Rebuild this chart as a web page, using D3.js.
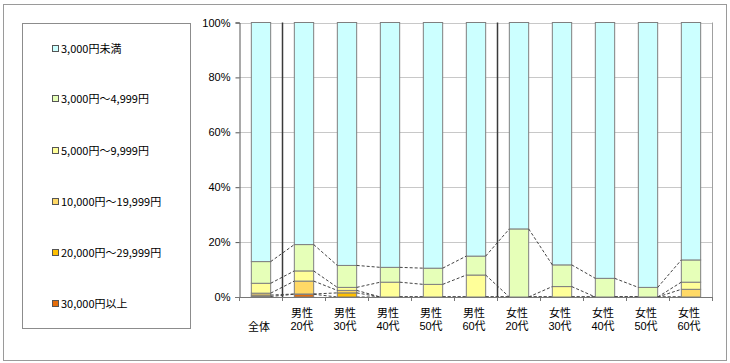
<!DOCTYPE html>
<html lang="ja">
<head>
<meta charset="utf-8"/>
<script src="https://d3js.org/d3.v7.min.js"></script>
<style>
  body { margin: 0; background: #fff; }
  text { font-family: "Noto Sans CJK JP", sans-serif; fill: #000; }
  .xlab { font-family: "Liberation Sans", "Noto Sans CJK JP", sans-serif; }
  .grid { stroke: #c8c8c8; stroke-width: 1; }
  .seriesline { stroke: #444; stroke-width: 1; stroke-dasharray: 3,2; fill: none; }
</style>
</head>
<body>
<svg id="chart" width="730" height="363"></svg>
<script>
// categories (two label lines each)
const cats = ["全体", "男性20代", "男性30代", "男性40代", "男性50代", "男性60代",
              "女性20代", "女性30代", "女性40代", "女性50代", "女性60代"];
const catLine1 = ["", "男性", "男性", "男性", "男性", "男性", "女性", "女性", "女性", "女性", "女性"];
const catLine2 = ["全体", "20代", "30代", "40代", "50代", "60代", "20代", "30代", "40代", "50代", "60代"];

// series, bottom to top (percent)
const seriesNames = ["30,000円以上", "20,000円～29,999円", "10,000円～19,999円",
                     "5,000円～9,999円", "3,000円～4,999円", "3,000円未満"];
const over30000   = [0.2, 1.0, 0.0, 0, 0, 0, 0, 0, 0, 0, 0];
const from20000   = [0.5, 0.1, 1.5, 0, 0, 0, 0, 0, 0, 0, 0];
const from10000   = [0.7, 4.7, 0.9, 0, 0, 0, 0, 0, 0, 0, 2.8];
const from5000    = [3.6, 3.7, 1.1, 5.4, 4.6, 8.0, 0, 3.8, 0, 0, 2.6];
const from3000    = [7.9, 9.6, 8.0, 5.4, 5.9, 6.9, 24.8, 7.9, 6.8, 3.5, 8.1];
const under3000   = [87.1, 80.9, 88.5, 89.2, 89.5, 85.1, 75.2, 88.3, 93.2, 96.5, 86.5];
const seriesValues = [over30000, from20000, from10000, from5000, from3000, under3000];
const seriesColors = ["#e46c0a", "#ffc000", "#ffd966", "#ffff99", "#e6ffb8", "#ccffff"];

const yTicks = [0, 20, 40, 60, 80, 100];

const svg = d3.select("#chart");

// outer frame
svg.append("rect").attr("x", 3.5).attr("y", 4.5).attr("width", 723).attr("height", 356)
  .attr("fill", "none").attr("stroke", "#9a9a9a");

const plotLeft = 239.5, plotRight = 712.5, plotTop = 22.5, plotBottom = 297;

const x = d3.scaleBand().domain(cats).range([plotLeft, plotRight]).padding(0);
const y = d3.scaleLinear().domain([0, 100]).range([plotBottom, plotTop]);
const barW = x.bandwidth() * 0.45;

// table for stack
const table = cats.map((c, i) => {
  const row = { cat: c };
  seriesNames.forEach((s, k) => row[s] = seriesValues[k][i]);
  return row;
});
const stacked = d3.stack().keys(seriesNames)(table);

// gridlines
svg.append("g").selectAll("line").data(yTicks.filter(t => t > 0)).join("line")
  .attr("class", "grid")
  .attr("x1", plotLeft).attr("x2", plotRight)
  .attr("y1", d => Math.round(y(d)) + 0.5).attr("y2", d => Math.round(y(d)) + 0.5);

// plot right border
svg.append("line").attr("x1", plotRight).attr("x2", plotRight).attr("y1", plotTop).attr("y2", plotBottom)
  .attr("stroke", "#a0a0a0");

// separators between groups
[1, 6].forEach(i => {
  const sx = x(cats[i]);
  svg.append("line").attr("x1", sx).attr("x2", sx).attr("y1", plotTop).attr("y2", plotBottom)
    .attr("stroke", "#3a3a3a").attr("stroke-width", 1.5);
});

// bars
const barOff = (x.bandwidth() - barW) / 2;
svg.append("g").selectAll("g").data(stacked).join("g")
  .attr("fill", (d, k) => seriesColors[k])
  .selectAll("rect").data(d => d).join("rect")
  .attr("x", d => x(d.data.cat) + barOff)
  .attr("width", barW)
  .attr("y", d => y(d[1]))
  .attr("height", d => y(d[0]) - y(d[1]))
  .attr("stroke", "#7f7f7f")
  .attr("stroke-width", d => (d[1] - d[0]) > 0 ? 1 : 0);

// series lines between adjacent bars
stacked.slice(0, stacked.length - 1).forEach(s => {
  for (let i = 0; i < cats.length - 1; i++) {
    svg.append("line").attr("class", "seriesline")
      .attr("x1", x(cats[i]) + barOff + barW)
      .attr("y1", y(s[i][1]))
      .attr("x2", x(cats[i + 1]) + barOff)
      .attr("y2", y(s[i + 1][1]));
  }
});

// y axis
const yAxis = svg.append("g").attr("transform", `translate(${plotLeft},0)`)
  .call(d3.axisLeft(y).tickValues(yTicks).tickSize(4).tickFormat(d => d + "%"));
yAxis.select(".domain").attr("stroke", "#555");
yAxis.selectAll(".tick line").attr("stroke", "#555");
yAxis.selectAll("text").attr("font-size", 11).attr("dx", -2)
  .style("font-family", "'Liberation Sans', sans-serif");

// x axis line and ticks at category boundaries
svg.append("line").attr("x1", plotLeft - 4).attr("x2", plotRight).attr("y1", plotBottom + 0.5).attr("y2", plotBottom + 0.5)
  .attr("stroke", "#777");
svg.append("g").selectAll("line").data(cats.map((c, i) => i).concat([cats.length])).join("line")
  .attr("x1", i => plotLeft + i * x.bandwidth()).attr("x2", i => plotLeft + i * x.bandwidth())
  .attr("y1", plotBottom).attr("y2", plotBottom + 4).attr("stroke", "#777");

// x labels, two lines in one text element
const xl = svg.append("g").selectAll("text").data(cats).join("text")
  .attr("class", "xlab")
  .attr("text-anchor", "middle").attr("font-size", 11)
  .attr("transform", d => `translate(${x(d) + x.bandwidth() / 2 - 2},0)`);
xl.filter((d, i) => catLine1[i] !== "").append("tspan")
  .attr("x", 0).attr("y", 316.5).text(d => catLine1[cats.indexOf(d)]);
xl.append("tspan")
  .attr("x", 0).attr("y", (d, i) => i === 0 ? 331 : 330).text((d, i) => catLine2[i]);

// legend
svg.append("rect").attr("x", 22.5).attr("y", 23.5).attr("width", 168).attr("height", 305)
  .attr("fill", "none").attr("stroke", "#8c8c8c");
const legendY = [49, 99, 151, 202, 253, 304];
const legendOrder = seriesNames.map((s, k) => k).reverse();
const lg = svg.append("g").selectAll("g").data(legendOrder).join("g")
  .attr("transform", (k, j) => `translate(52,${legendY[j]})`);
lg.append("rect").attr("x", 0.5).attr("y", -3.5).attr("width", 6).attr("height", 6)
  .attr("fill", k => seriesColors[k]).attr("stroke", "#555");
lg.append("text").attr("x", 9).attr("y", 4).attr("font-size", 11)
  .text(k => seriesNames[k]);
</script>
</body>
</html>
